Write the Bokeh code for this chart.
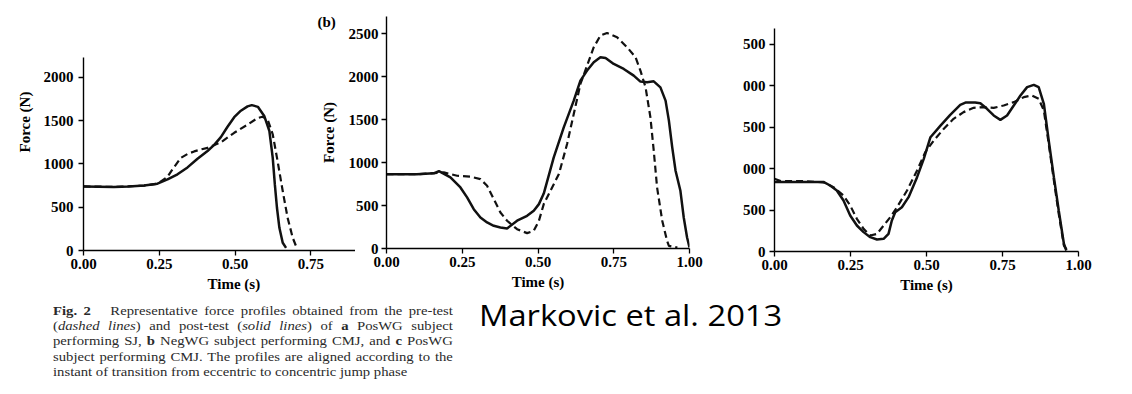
from bokeh.plotting import figure
from bokeh.layouts import row, column
from bokeh.models import Div, Title, Range1d, FixedTicker, NumeralTickFormatter
from bokeh.embed import file_html
from bokeh.resources import INLINE

# ---------------- data ----------------
# Panel a (PosWG subject, SJ)
a_t_post = [0, 0.05, 0.10, 0.15, 0.20, 0.244, 0.277, 0.31, 0.343, 0.376, 0.409, 0.431, 0.453, 0.475,
            0.497, 0.519, 0.541, 0.555, 0.575, 0.596, 0.613, 0.624, 0.631, 0.638, 0.646, 0.657, 0.668]
a_f_post = [740, 738, 735, 740, 752, 772, 822, 880, 960, 1060, 1150, 1220, 1310, 1430,
            1540, 1615, 1665, 1680, 1660, 1555, 1381, 1073, 764, 494, 262, 89, 31]
a_t_pre = [0, 0.10, 0.20, 0.244, 0.277, 0.29, 0.321, 0.343, 0.365, 0.39, 0.409, 0.453, 0.497, 0.541,
           0.574, 0.59, 0.607, 0.624, 0.640, 0.657, 0.673, 0.690, 0.701]
a_f_pre = [740, 735, 750, 772, 850, 920, 1070, 1115, 1145, 1170, 1185, 1250, 1360, 1455,
           1530, 1545, 1516, 1343, 1034, 687, 379, 147, 50]

# Panel b (NegWG subject, CMJ)
b_t_post = [0, 0.10, 0.156, 0.173, 0.211, 0.244, 0.266, 0.288, 0.310, 0.332, 0.354, 0.376, 0.398,
            0.431, 0.464, 0.486, 0.503, 0.519, 0.552, 0.585, 0.618, 0.640, 0.662, 0.684, 0.706,
            0.723, 0.75, 0.783, 0.816, 0.838, 0.86, 0.882, 0.904, 0.921, 0.932, 0.943, 0.954,
            0.970, 0.981, 0.992, 1.0]
b_f_post = [865, 865, 875, 900, 828, 711, 595, 458, 361, 303, 264, 245, 233,
            324, 381, 440, 517, 640, 1061, 1411, 1722, 1955, 2072, 2169, 2227,
            2219, 2149, 2091, 2013, 1944, 1936, 1947, 1877, 1722, 1489, 1178, 906,
            672, 361, 128, 12]
b_t_pre = [0, 0.10, 0.17, 0.189, 0.233, 0.277, 0.31, 0.332, 0.354, 0.376, 0.398, 0.431, 0.464,
           0.486, 0.503, 0.519, 0.541, 0.569, 0.596, 0.618, 0.64, 0.662, 0.684, 0.706, 0.728,
           0.761, 0.794, 0.822, 0.838, 0.855, 0.871, 0.882, 0.893, 0.91, 0.926, 0.932, 0.96]
b_f_pre = [865, 865, 880, 886, 847, 836, 808, 731, 575, 420, 323, 225, 179,
           206, 323, 517, 672, 867, 1217, 1566, 1916, 2130, 2344, 2480, 2511,
           2460, 2344, 2227, 2072, 1877, 1528, 1139, 711, 323, 89, 31, 10]

# Panel c (PosWG subject, CMJ)
c_t_post = [0, 0.10, 0.161, 0.183, 0.205, 0.227, 0.249, 0.271, 0.293, 0.315, 0.337, 0.359, 0.375,
            0.386, 0.397, 0.419, 0.441, 0.469, 0.491, 0.513, 0.546, 0.578, 0.611, 0.630, 0.66,
            0.677, 0.699, 0.721, 0.743, 0.765, 0.787, 0.809, 0.831, 0.853, 0.869, 0.886, 0.902,
            0.919, 0.935, 0.952, 0.960]
c_f_post = [840, 840, 840, 797, 737, 616, 435, 314, 234, 173, 145, 153, 213,
            374, 475, 535, 656, 898, 1119, 1380, 1520, 1650, 1770, 1800, 1800,
            1790, 1723, 1643, 1590, 1643, 1763, 1884, 1985, 2013, 1985, 1784, 1341,
            898, 495, 93, 12]
c_t_pre = [0, 0.02, 0.10, 0.161, 0.194, 0.227, 0.249, 0.271, 0.293, 0.315, 0.337, 0.359, 0.381,
           0.403, 0.436, 0.469, 0.496, 0.524, 0.557, 0.589, 0.622, 0.655, 0.688, 0.721, 0.754,
           0.787, 0.82, 0.847, 0.869, 0.886, 0.902, 0.919, 0.935, 0.952, 0.963]
c_f_pre = [878, 850, 850, 835, 777, 676, 556, 395, 274, 193, 213, 314, 415,
           535, 737, 978, 1200, 1341, 1482, 1602, 1683, 1735, 1743, 1735, 1763,
           1804, 1864, 1884, 1844, 1703, 1300, 858, 455, 72, 12]

x_ticks = [0, 0.25, 0.5, 0.75, 1.0]
y_ticks_a = [0, 500, 1000, 1500, 2000]
y_ticks_bc = [0, 500, 1000, 1500, 2000, 2500]
c_y_labels = {0: "0", 500: "500", 1000: "000", 1500: "500", 2000: "000", 2500: "500"}

x_title = "Time (s)"
y_title = "Force (N)"
panel_b_tag = "(b)"
caption_lines = [
    "<b>Fig. 2</b>&nbsp;&nbsp; Representative force profiles obtained from the pre-test",
    "(<i>dashed lines</i>) and post-test (<i>solid lines</i>) of <b>a</b> PosWG subject",
    "performing SJ, <b>b</b> NegWG subject performing CMJ, and <b>c</b> PosWG",
    "subject performing CMJ. The profiles are aligned according to the",
    "instant of transition from eccentric to concentric jump phase",
]
credit = "Markovic et al. 2013"

# ---------------- style ----------------
FONT = "Liberation Serif"
INK = "#111111"
FS = "15px"


def make(frame_w, frame_h, xend, yend, yticks, left, top, bottom, right, **kw):
    p = figure(output_backend="svg", toolbar_location=None,
               frame_width=frame_w, frame_height=frame_h,
               x_range=Range1d(0, xend), y_range=Range1d(0, yend),
               min_border_left=left, min_border_top=top,
               min_border_bottom=bottom, min_border_right=right,
               background_fill_color=None, border_fill_color=None,
               outline_line_color=None, frame_align=False, **kw)
    p.xgrid.visible = False
    p.ygrid.visible = False
    for ax in (p.xaxis[0], p.yaxis[0]):
        ax.axis_line_color = "black"
        ax.axis_line_width = 1.4
        ax.major_tick_line_color = "black"
        ax.major_tick_line_width = 1.3
        ax.major_tick_out = 5
        ax.major_tick_in = 0
        ax.minor_tick_line_color = None
        ax.major_label_text_font = FONT
        ax.major_label_text_font_style = "bold"
        ax.major_label_text_font_size = FS
        ax.major_label_text_color = "black"
        ax.axis_label_text_font = FONT
        ax.axis_label_text_font_style = "bold"
        ax.axis_label_text_font_size = FS
        ax.axis_label_text_color = "black"
    p.xaxis.ticker = FixedTicker(ticks=x_ticks)
    p.xaxis.formatter = NumeralTickFormatter(format="0.00")
    p.xaxis.major_label_standoff = 3
    p.yaxis.ticker = FixedTicker(ticks=yticks)
    return p


def curves(p, tpost, fpost, tpre, fpre):
    p.line(tpre, fpre, line_color=INK, line_width=2.2, line_dash="7 4")
    p.line(tpost, fpost, line_color=INK, line_width=2.5)


def side_title(text, **kw):
    return Title(text=text, text_font=FONT, text_font_style="bold",
                 text_font_size=FS, text_color="black", **kw)


# Panel a (top border enlarged and pulled up so the "(b)" tag fits in it)
pa = make(272, 193, 0.897, 2230, y_ticks_a, 83, 75, 48, 0, margin=(-18, 0, 0, 0))
curves(pa, a_t_post, a_f_post, a_t_pre, a_f_pre)
pa.yaxis.major_label_standoff = 5
pa.add_layout(side_title(x_title, align="left", offset=124, standoff=4), "below")
pa.add_layout(side_title(y_title, align="left", offset=98, standoff=16), "left")
pa.title.text = panel_b_tag
pa.title.align = "left"
pa.title.offset = 234
pa.title.standoff = 55
pa.title.text_font = FONT
pa.title.text_font_style = "bold"
pa.title.text_font_size = FS
pa.title.text_color = "black"

# Panel b
pb = make(303, 232, 1.0, 2702, y_ticks_bc, 76, 16, 50, 16, margin=(0, 0, 0, -45))
curves(pb, b_t_post, b_f_post, b_t_pre, b_f_pre)
pb.yaxis.major_label_standoff = 3
pb.yaxis.axis_label = y_title
pb.yaxis.axis_label_standoff = 9
pb.xaxis.axis_label = x_title
pb.xaxis.axis_label_standoff = 4

# Panel c
pc = make(304, 223, 1.0, 2693, y_ticks_bc, 69, 28, 47, 20)
curves(pc, c_t_post, c_f_post, c_t_pre, c_f_pre)
pc.yaxis.major_label_overrides = c_y_labels
pc.yaxis.major_label_standoff = 4
pc.xaxis.axis_label = x_title
pc.xaxis.axis_label_standoff = 4

# captions
line_html = []
for i, ln in enumerate(caption_lines):
    align = "left" if i == len(caption_lines) - 1 else "justify"
    line_html.append(
        f'<div style="text-align:{align};text-align-last:{align};">{ln}</div>')
cap_html = ('<div style="font-family:\'Liberation Serif\';font-size:12.5px;line-height:15.2px;'
            'color:#2a2a2a;width:340px;padding-top:6px;transform:scaleX(1.176);'
            'transform-origin:0 0;">' + "".join(line_html) + "</div>")
cap = Div(text=cap_html, width=400, height=88, margin=(0, 0, 0, 53))

mk = Div(text=('<div style="font-family:\'Open Sans\';font-size:29px;line-height:29px;'
               'color:#000;white-space:nowrap;transform:scaleX(1.127);transform-origin:0 0;">'
               + credit + '</div>'),
         width=340, height=40, margin=(2, 0, 0, 26))

layout = column(row(pa, pb, pc), row(cap, mk))

open("out.html", "w").write(file_html(layout, INLINE))
